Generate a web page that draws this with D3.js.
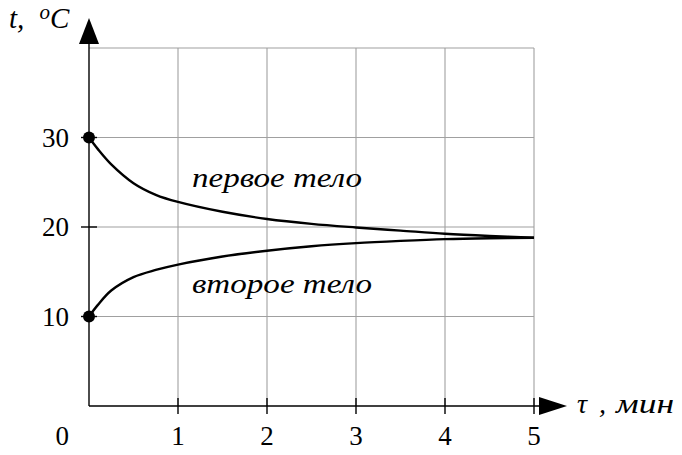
<!DOCTYPE html>
<html>
<head>
<meta charset="utf-8">
<script src="https://cdn.jsdelivr.net/npm/d3@7"></script>
<style>
  body { margin: 0; background: #fff; }
</style>
</head>
<body>
<div id="chart"></div>
<script>
// time in minutes
const tau = [0, 0.1, 0.25, 0.5, 0.75, 1, 1.5, 2, 2.5, 3, 3.5, 4, 4.5, 5];
// temperature of the first and second body, °C
const firstBody = [30, 28.7, 27.0, 24.9, 23.6, 22.8, 21.7, 20.9, 20.35, 19.95, 19.6, 19.25, 19.0, 18.8];
const secondBody = [10, 11.3, 12.9, 14.4, 15.2, 15.8, 16.7, 17.35, 17.85, 18.2, 18.45, 18.65, 18.75, 18.8];
const xTicks = [1, 2, 3, 4, 5];
const yTicks = [10, 20, 30];
const gridY = [10, 20, 30, 40];

const FONT = "'Liberation Serif', serif";

function draw() {
  const dimensions = {
    width: 682,
    height: 455,
    margin: { top: 48, left: 89, right: 148, bottom: 49 },
  };
  const w = dimensions.width - dimensions.margin.left - dimensions.margin.right;
  const h = dimensions.height - dimensions.margin.top - dimensions.margin.bottom;

  const svg = d3
    .select("#chart")
    .append("svg")
    .attr("width", dimensions.width)
    .attr("height", dimensions.height);

  const ctr = svg
    .append("g")
    .attr("transform", `translate(${dimensions.margin.left}, ${dimensions.margin.top})`);

  const xScale = d3.scaleLinear().domain([0, 5]).range([0, w]);
  const yScale = d3.scaleLinear().domain([0, 40]).range([h, 0]);

  // grid
  ctr
    .append("g")
    .selectAll("line")
    .data(xTicks)
    .join("line")
    .attr("x1", (d) => xScale(d))
    .attr("x2", (d) => xScale(d))
    .attr("y1", yScale(0))
    .attr("y2", yScale(40))
    .attr("stroke", "#a8a8a8")
    .attr("stroke-width", 1.2);

  ctr
    .append("g")
    .selectAll("line")
    .data(gridY)
    .join("line")
    .attr("x1", xScale(0))
    .attr("x2", xScale(5))
    .attr("y1", (d) => yScale(d))
    .attr("y2", (d) => yScale(d))
    .attr("stroke", "#a0a0a0")
    .attr("stroke-width", 1.2);

  // axes
  const ax = ctr.append("g").attr("stroke", "#000").attr("stroke-width", 1.4);
  ax.append("line")
    .attr("x1", xScale(0)).attr("x2", xScale(5) + 6)
    .attr("y1", yScale(0)).attr("y2", yScale(0));
  ax.append("line")
    .attr("x1", xScale(0)).attr("x2", xScale(0))
    .attr("y1", yScale(0)).attr("y2", yScale(40) - 4);

  // arrow heads
  const x0 = xScale(0), y0 = yScale(0);
  ctr.append("path")
    .attr("d", `M${xScale(5) + 5},${y0 - 9} L${xScale(5) + 33},${y0} L${xScale(5) + 5},${y0 + 9} Z`)
    .attr("fill", "#000");
  ctr.append("path")
    .attr("d", `M${x0 - 10},${yScale(40) - 4} L${x0},${yScale(40) - 30} L${x0 + 10},${yScale(40) - 4} Z`)
    .attr("fill", "#000");

  // ticks
  ax.selectAll(".xt")
    .data(xTicks)
    .join("line")
    .attr("x1", (d) => xScale(d)).attr("x2", (d) => xScale(d))
    .attr("y1", y0 - 8).attr("y2", y0 + 8);
  ax.selectAll(".yt")
    .data(yTicks)
    .join("line")
    .attr("x1", x0 - 8).attr("x2", x0 + 8)
    .attr("y1", (d) => yScale(d)).attr("y2", (d) => yScale(d));

  // tick labels
  ctr.append("g")
    .selectAll("text")
    .data(xTicks)
    .join("text")
    .style("font-family", FONT)
    .attr("x", (d) => xScale(d))
    .attr("y", y0 + 39)
    .attr("text-anchor", "middle")
    .attr("font-size", 27)
    .text((d) => d);
  ctr.append("g")
    .selectAll("text")
    .data(yTicks)
    .join("text")
    .style("font-family", FONT)
    .attr("x", x0 - 20)
    .attr("y", (d) => yScale(d) + 9)
    .attr("text-anchor", "end")
    .attr("font-size", 27)
    .text((d) => d);
  ctr.append("text")
    .style("font-family", FONT)
    .attr("x", x0 - 20)
    .attr("y", y0 + 39)
    .attr("text-anchor", "end")
    .attr("font-size", 27)
    .text("0");

  // curves
  const line = d3.line().curve(d3.curveCatmullRom.alpha(0.5));
  [firstBody, secondBody].forEach((series) => {
    ctr.append("path")
      .attr("d", line(tau.map((t, i) => [xScale(t), yScale(series[i])])))
      .attr("fill", "none")
      .attr("stroke", "#000")
      .attr("stroke-width", 2.4);
    ctr.append("circle")
      .attr("cx", xScale(tau[0]))
      .attr("cy", yScale(series[0]))
      .attr("r", 6)
      .attr("fill", "#000");
  });

  // curve labels
  ctr.append("text")
    .style("font-family", FONT)
    .attr("x", 103).attr("y", 139)
    .attr("font-size", 27).attr("font-style", "italic")
    .attr("textLength", 170).attr("lengthAdjust", "spacingAndGlyphs")
    .text("первое тело");
  ctr.append("text")
    .style("font-family", FONT)
    .attr("x", 103).attr("y", 245)
    .attr("font-size", 27).attr("font-style", "italic")
    .attr("textLength", 180).attr("lengthAdjust", "spacingAndGlyphs")
    .text("второе тело");

  // axis titles
  const yt = svg.append("text")
    .style("font-family", FONT)
    .attr("x", 9).attr("y", 28)
    .attr("font-size", 29).attr("font-style", "italic");
  yt.append("tspan").text("t, ");
  yt.append("tspan").attr("dx", 8).attr("dy", -9).attr("font-size", 21).text("o");
  yt.append("tspan").attr("dy", 9).text("C");

  const xt = svg.append("text")
    .style("font-family", FONT)
    .attr("y", 413)
    .attr("font-size", 28).attr("font-style", "italic");
  xt.append("tspan").attr("x", 577).text("τ");
  xt.append("tspan").attr("x", 599).text(",");
  xt.append("tspan").attr("x", 616)
    .attr("textLength", 58).attr("lengthAdjust", "spacingAndGlyphs")
    .text("мин");
}

draw();
</script>
</body>
</html>
